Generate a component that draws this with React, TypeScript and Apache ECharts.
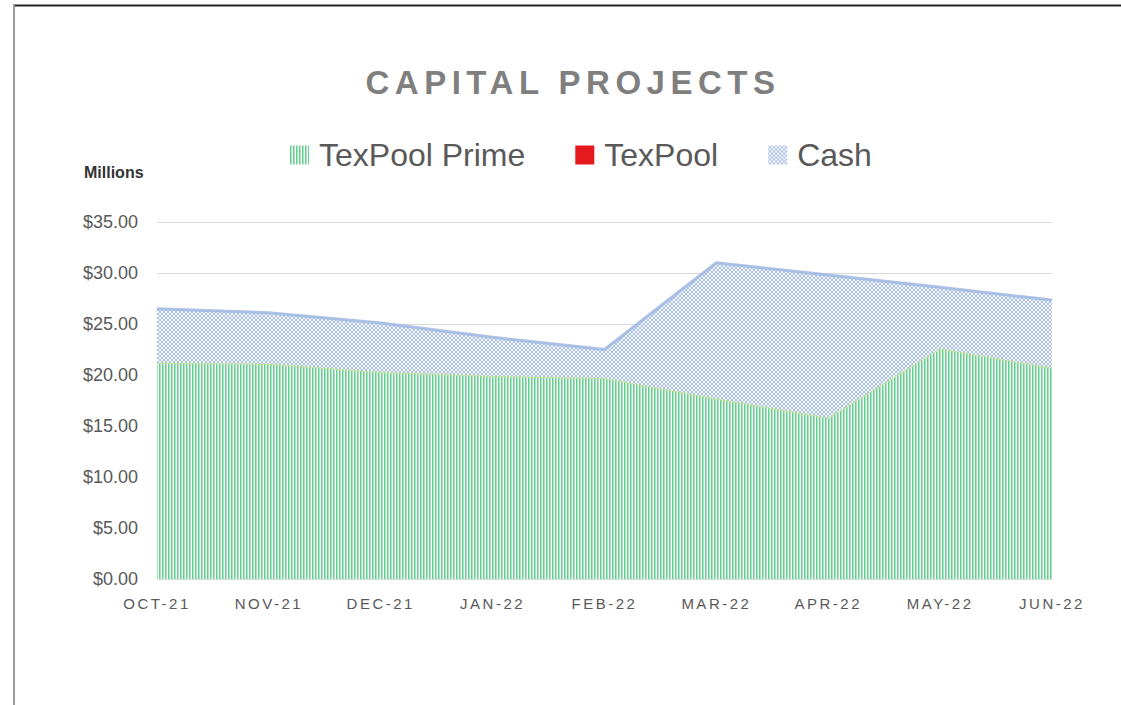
import React, { useEffect, useRef } from "react";
import * as echarts from "echarts";

const months = ["OCT-21", "NOV-21", "DEC-21", "JAN-22", "FEB-22", "MAR-22", "APR-22", "MAY-22", "JUN-22"];
const texPoolPrime = [21.2, 21.1, 20.3, 19.9, 19.7, 17.7, 15.8, 22.6, 20.7];
const texPool = [0, 0, 0, 0, 0, 0, 0, 0, 0];
const cash = [5.3, 5.0, 4.8, 3.8, 2.8, 13.3, 14.0, 6.0, 6.65];
const yTicks = [0, 5, 10, 15, 20, 25, 30, 35];
const titleText = "CAPITAL PROJECTS";
const unitText = "Millions";

function makeStripes(): HTMLCanvasElement {
  const c = document.createElement("canvas");
  c.width = 3;
  c.height = 4;
  const g = c.getContext("2d")!;
  g.fillStyle = "#ffffff";
  g.fillRect(0, 0, 3, 4);
  g.fillStyle = "#62d08f";
  g.fillRect(0, 0, 1, 4);
  g.fillStyle = "#a9e4bf";
  g.fillRect(1, 0, 1, 4);
  return c;
}

function makeHatch(): HTMLCanvasElement {
  const c = document.createElement("canvas");
  c.width = 4;
  c.height = 4;
  const g = c.getContext("2d")!;
  g.fillStyle = "#f7f9fd";
  g.fillRect(0, 0, 4, 4);
  g.fillStyle = "#a9c0e6";
  for (let i = 0; i < 4; i++) {
    g.fillRect(i, i, 1, 1);
    g.fillRect(3 - i, i, 1, 1);
  }
  return c;
}

export default function App() {
  const ref = useRef<HTMLDivElement>(null);

  useEffect(() => {
    if (!ref.current) return;
    const chart = echarts.init(ref.current, null, { renderer: "svg" });
    const stripes = { image: makeStripes(), repeat: "repeat" as const };
    const hatch = { image: makeHatch(), repeat: "repeat" as const };

    chart.setOption({
      animation: false,
      backgroundColor: "#ffffff",
      graphic: [
        { type: "line", shape: { x1: 13, y1: 5.5, x2: 1121, y2: 5.5 }, style: { stroke: "#222222", lineWidth: 2 } },
        { type: "line", shape: { x1: 14, y1: 5, x2: 14, y2: 705 }, style: { stroke: "#9a9a9a", lineWidth: 2 } },
        {
          type: "text",
          x: 573,
          y: 82,
          style: {
            text: titleText,
            font: "bold 33px 'Liberation Sans', Arial, sans-serif",
            fill: "#7f7f7f",
            align: "center",
            verticalAlign: "middle",
          },
        },
        {
          type: "text",
          x: 84,
          y: 172,
          style: {
            text: unitText,
            font: "bold 16px 'Liberation Sans', Arial, sans-serif",
            fill: "#333333",
            align: "left",
            verticalAlign: "middle",
          },
        },
      ],
      legend: {
        left: 285,
        top: 130,
        icon: "rect",
        itemWidth: 19,
        itemHeight: 19,
        itemGap: 50,
        textStyle: {
          fontFamily: "'Liberation Sans', Arial, sans-serif",
          fontSize: 32,
          color: "#595959",
          padding: [0, 0, 0, 5],
          lineHeight: 40,
        },
        data: [
          { name: "TexPool Prime", itemStyle: { color: stripes } },
          { name: "TexPool", itemStyle: { color: "#e5191e" } },
          { name: "Cash", itemStyle: { color: hatch } },
        ],
      },
      grid: { left: 157, right: 69, top: 222, bottom: 126 },
      xAxis: {
        type: "category",
        data: months,
        boundaryGap: false,
        axisLine: { show: true, lineStyle: { color: "#d9d9d9" } },
        axisTick: { show: false },
        axisLabel: {
          margin: 17,
          fontFamily: "'Liberation Sans', Arial, sans-serif",
          fontSize: 15,
          color: "#595959",
        },
      },
      yAxis: {
        type: "value",
        min: yTicks[0],
        max: yTicks[yTicks.length - 1],
        interval: 5,
        axisLine: { show: false },
        axisTick: { show: false },
        splitLine: { lineStyle: { color: "#d9d9d9", width: 1 } },
        axisLabel: {
          margin: 19,
          fontFamily: "'Liberation Sans', Arial, sans-serif",
          fontSize: 18,
          color: "#595959",
          formatter: (v: number) => "$" + v.toFixed(2),
        },
      },
      series: [
        {
          name: "TexPool Prime",
          type: "line",
          stack: "total",
          data: texPoolPrime,
          showSymbol: false,
          symbol: "none",
          lineStyle: { color: "#c6e19c", width: 2 },
          itemStyle: { color: stripes },
          areaStyle: { color: stripes, opacity: 1 },
          z: 2,
        },
        {
          name: "TexPool",
          type: "line",
          stack: "total",
          data: texPool,
          showSymbol: false,
          symbol: "none",
          lineStyle: { width: 0, opacity: 0 },
          itemStyle: { color: "#e5191e" },
          areaStyle: { color: "#e5191e", opacity: 0 },
          z: 1,
        },
        {
          name: "Cash",
          type: "line",
          stack: "total",
          data: cash,
          showSymbol: false,
          symbol: "none",
          lineStyle: { color: "#9db6e0", width: 3, opacity: 0.85 },
          itemStyle: { color: hatch },
          areaStyle: { color: hatch, opacity: 1 },
          z: 3,
        },
      ],
    });

    const applySpacing = () => {
      const root = ref.current;
      if (!root) return;
      root.querySelectorAll("text").forEach((t) => {
        const s = (t.textContent || "").trim();
        if (s === titleText) t.setAttribute("letter-spacing", "5.5");
        else if (months.indexOf(s) >= 0) t.setAttribute("letter-spacing", "2.5");
      });
    };
    chart.on("finished", applySpacing);
    applySpacing();
    const timer = window.setTimeout(applySpacing, 50);

    return () => {
      window.clearTimeout(timer);
      chart.dispose();
    };
  }, []);

  return (
    <div
      ref={ref}
      style={{ position: "fixed", left: 0, top: 0, width: 1121, height: 705, background: "#fff" }}
    />
  );
}
